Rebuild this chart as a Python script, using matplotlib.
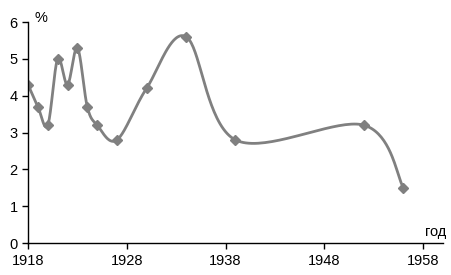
import numpy as np
import matplotlib
matplotlib.use("Agg")
import matplotlib.pyplot as plt

years = [1918, 1919, 1920, 1921, 1922, 1923, 1924, 1925, 1927, 1930, 1934, 1939, 1952, 1956]
values = [4.3, 3.7, 3.2, 5.0, 4.3, 5.3, 3.7, 3.2, 2.8, 4.2, 5.6, 2.8, 3.2, 1.5]
x_ticks = [1918, 1928, 1938, 1948, 1958]
y_ticks = [0, 1, 2, 3, 4, 5, 6]

LINE_COLOR = "#808080"


def smooth_curve(xs, ys, sx, sy, n=40):
    # Catmull-Rom style smoothing done in screen-like units (like Excel's smoothed line)
    px = np.asarray(xs, float) * sx
    py = np.asarray(ys, float) * sy
    pts = np.column_stack([px, py])
    pts = np.vstack([pts[0], pts, pts[-1]])
    out = []
    for i in range(1, len(pts) - 2):
        p0, p1, p2, p3 = pts[i - 1], pts[i], pts[i + 1], pts[i + 2]
        c1 = p1 + (p2 - p0) / 6
        c2 = p2 - (p3 - p1) / 6
        t = np.linspace(0, 1, n)[:, None]
        seg = ((1 - t) ** 3) * p1 + 3 * ((1 - t) ** 2) * t * c1 + 3 * (1 - t) * t ** 2 * c2 + t ** 3 * p2
        out.append(seg if i == 1 else seg[1:])
    out = np.vstack(out)
    return out[:, 0] / sx, out[:, 1] / sy


def main():
    plt.rcParams["font.family"] = ["Liberation Sans", "DejaVu Sans"]
    fig = plt.figure(figsize=(4.52, 2.75), dpi=100)
    ax = fig.add_axes([0.062, 0.116, 0.918, 0.804])

    # pixels per year / per unit, used for smoothing in screen space
    cx, cy = smooth_curve(years, values, 9.9, 36.8)
    ax.plot(cx, cy, color=LINE_COLOR, linewidth=2, solid_capstyle="round")
    ax.plot(years, values, linestyle="none", marker="D", markersize=5.5,
            color=LINE_COLOR)

    ax.set_xlim(1918, 1960)
    ax.set_ylim(0, 6)
    ax.set_xticks(x_ticks)
    ax.set_yticks(y_ticks)
    ax.tick_params(direction="out", length=4, width=1, labelsize=10.5,
                   colors="black")
    for side in ("top", "right"):
        ax.spines[side].set_visible(False)
    for side in ("left", "bottom"):
        ax.spines[side].set_linewidth(1)

    fig.text(0.077, 0.935, "%", fontsize=10.5, ha="left", va="center")
    fig.text(0.988, 0.155, "год", fontsize=10.5, ha="right", va="center")

    fig.savefig("out.png", dpi=100)
    plt.close(fig)


if __name__ == "__main__":
    main()
